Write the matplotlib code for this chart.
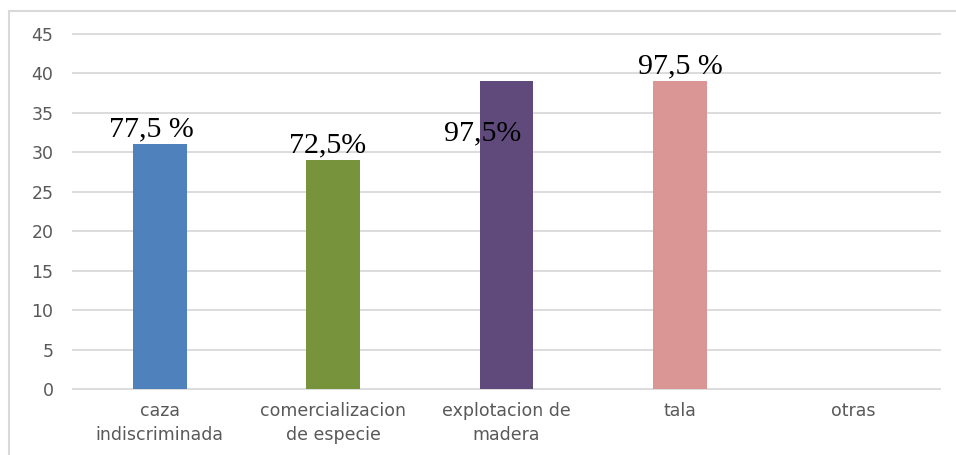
import matplotlib
matplotlib.use("Agg")
import matplotlib.pyplot as plt
from matplotlib.patches import Rectangle

categories = ["caza\nindiscriminada", "comercializacion\nde especie", "explotacion de\nmadera", "tala", "otras"]
values = [31, 29, 39, 39, 0]
bar_labels = ["77,5 %", "72,5%", "97,5%", "97,5 %", None]
label_offsets = [(-0.05, 0.2), (-0.03, 0.2), (-0.14, -8.3), (0.0, 0.2), (0, 0)]
colors = ["#4f81bd", "#77933c", "#604a7b", "#d99694", "#4f81bd"]
yticks = [0, 5, 10, 15, 20, 25, 30, 35, 40, 45]

fig = plt.figure(figsize=(9.56, 4.55), dpi=100)
fig.patches.append(Rectangle((8.5/956, -0.1), 1.2, 1 - 10.5/455 + 0.1, transform=fig.transFigure,
                             fill=False, edgecolor="#d9d9d9", linewidth=1.5))
ax = fig.add_axes([73/956, 1 - 389/455, (940 - 73)/956, (389 - 34)/455])

x = list(range(len(categories)))
ax.bar(x, values, width=0.31, color=colors, zorder=3)
ax.set_xlim(-0.5, len(categories) - 0.5)
ax.set_ylim(0, 45)
ax.set_yticks(yticks)
ax.yaxis.grid(True, color="#d9d9d9", linewidth=1.3, zorder=0)
for gl in ax.get_ygridlines():
    gl.set_clip_on(False)
for s in ax.spines.values():
    s.set_visible(False)
ax.tick_params(axis="both", length=0, colors="#595959")
ax.tick_params(axis="y", pad=14, labelsize=12.5)
ax.set_xticks(x)
ax.set_xticklabels(categories, fontsize=12.5, linespacing=1.5)
ax.tick_params(axis="x", pad=9)
for lab in ax.get_yticklabels() + ax.get_xticklabels():
    lab.set_fontfamily("DejaVu Sans")
    lab.set_color("#595959")

for xi, v, lab, (dx, dy) in zip(x, values, bar_labels, label_offsets):
    if lab is None:
        continue
    ax.text(xi + dx, v + dy, lab, ha="center", va="bottom", fontsize=21.5,
            family="Liberation Serif", color="black", zorder=4)

fig.savefig("out.png", dpi=100)
